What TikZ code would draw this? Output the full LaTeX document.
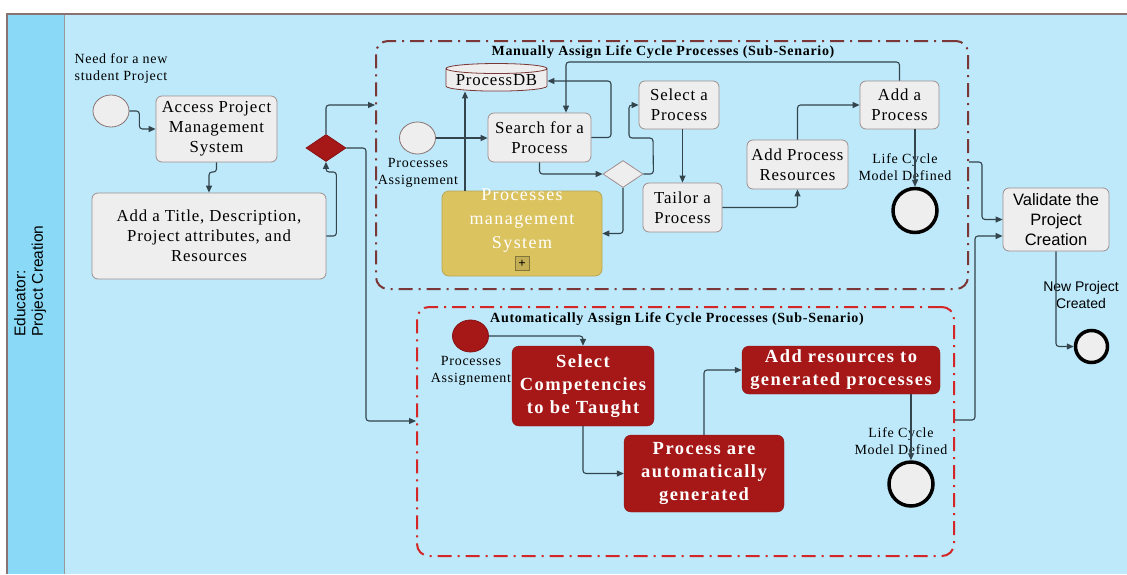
\documentclass[tikz,border=0pt]{standalone}
\usepackage{fontspec}
\setmainfont{Liberation Serif}
\newfontfamily\wideserif[LetterSpace=5]{Liberation Serif}
\newfontfamily\widerserif[LetterSpace=8]{Liberation Serif}
\newfontfamily\arialfont{Liberation Sans}
\usetikzlibrary{shapes.geometric,arrows.meta}

\definecolor{laneblue}{HTML}{BDE9FA}
\definecolor{bandblue}{HTML}{8AD9F6}
\definecolor{poolline}{HTML}{8A7272}
\definecolor{taskfill}{HTML}{EFEEEE}
\definecolor{taskline}{HTML}{A08E8E}
\definecolor{bpmnred}{HTML}{A61717}
\definecolor{pmsgold}{HTML}{DBC360}
\definecolor{subbrown}{HTML}{7B3636}
\definecolor{subred}{HTML}{D42626}
\definecolor{flowline}{HTML}{34444C}

\begin{document}
\begin{tikzpicture}[x=1pt, y=-1pt,
  task/.style={draw=taskline, fill=taskfill, rounded corners=6pt, line width=0.8pt, align=center, inner sep=2pt,
    font=\wideserif\fontsize{16.8}{20}\selectfont},
  redtask/.style={draw=bpmnred!85!black, fill=bpmnred, rounded corners=7pt, text=white, align=center, inner sep=2pt,
    font=\widerserif\bfseries\fontsize{18.5}{23}\selectfont},
  startev/.style={ellipse, draw=poolline, fill=taskfill, line width=0.8pt, inner sep=0pt, minimum width=36pt, minimum height=32pt},
  endev/.style={circle, draw=black, fill=taskfill, line width=3.5pt, inner sep=0pt},
  evlabel/.style={align=center, inner sep=0pt, font=\wideserif\fontsize{14}{17}\selectfont},
  sanslabel/.style={align=center, inner sep=0pt, font=\arialfont\fontsize{14}{17}\selectfont},
  subtitle/.style={inner sep=0pt, font=\wideserif\bfseries\fontsize{14}{16}\selectfont},
  subproc/.style={rounded corners=12pt, line width=2pt, dash pattern=on 14pt off 6pt on 2pt off 6pt, inner sep=0pt},
  gateway/.style={diamond, inner sep=0pt, line width=0.8pt, minimum width=40pt, minimum height=27pt},
  flow/.style={draw=flowline, line width=1.1pt, rounded corners=3pt, -{Triangle[length=7pt,width=6pt]}}]

\useasboundingbox (0,0) rectangle (1127,574);

% pool and lane
\fill[laneblue] (8,14) rectangle (1127,574);
\fill[bandblue] (8,14) rectangle (64,574);
\draw[gray!80, line width=1pt] (64,14) -- (64,574);
\draw[poolline, line width=2pt] (1127,14) -- (7,14) -- (7,574);
\node[rotate=90, align=left, inner sep=0pt, font=\arialfont\fontsize{15.5}{17.5}\selectfont] (lane) at (30,281) {Educator:\\Project Creation};

% sub-scenario frames
\node[subproc, draw=subbrown, minimum width=592pt, minimum height=248pt] (msub) at (672,165) {};
\node[subproc, draw=subred, minimum width=537pt, minimum height=249pt] (asub) at (685.5,431.5) {};
\node[subtitle] (mtitle) at (663,52) {Manually Assign Life Cycle Processes (Sub-Senario)};
\node[subtitle] (atitle) at (677,319) {Automatically Assign Life Cycle Processes (Sub-Senario)};

% main lane
\node[startev] (need) at (111,111) {};
\node[evlabel] (needlbl) at (121,69) {Need for a new\\student Project};
\node[task, minimum width=121pt, minimum height=66pt] (access) at (216.5,129) {Access Project\\Management\\System};
\node[task, minimum width=234pt, minimum height=86pt] (addtitle) at (209,236) {Add a Title, Description,\\Project attributes, and\\Resources};
\node[gateway, fill=bpmnred, draw=bpmnred!80!black] (gw1) at (326,148) {};

% manual assignment
\node[cylinder, shape border rotate=90, aspect=0.12, draw=subbrown, fill=taskfill, line width=0.8pt,
  minimum width=101pt, minimum height=25pt, inner sep=1pt, font=\wideserif\fontsize{16.8}{20}\selectfont] (db) at (496.5,80.5) {ProcessDB};
\node[startev] (mstart) at (417.5,138) {};
\node[evlabel] (mstartlbl) at (418,173) {Processes\\Assignement};
\node[task, minimum width=103pt, minimum height=49pt] (search) at (539.5,137.5) {Search for a\\Process};
\node[draw=pmsgold!85!black, fill=pmsgold, rounded corners=7pt, line width=0.8pt, minimum width=160pt, minimum height=85pt] (pms) at (522,233.5) {};
\node[align=center, text=white, inner sep=0pt, font=\widerserif\fontsize{18}{24}\selectfont] (pmslbl) at (522,221) {Processes\\management\\System};
\node[draw=pmsgold!60!black, fill=pmsgold!90!black, line width=0.6pt, minimum size=14pt, inner sep=0pt,
  font=\bfseries\fontsize{13}{13}\selectfont] (pmsplus) at (522,263.5) {+};
\node[gateway, fill=taskfill, draw=taskline] (gw2) at (623,174) {};
\node[task, minimum width=80pt, minimum height=48pt] (select) at (679,105) {Select a\\Process};
\node[task, minimum width=79pt, minimum height=49pt] (tailor) at (682.5,207.5) {Tailor a\\Process};
\node[task, minimum width=101pt, minimum height=49pt] (apr) at (797.5,164.5) {Add Process\\Resources};
\node[task, minimum width=79pt, minimum height=48pt] (addp) at (899.5,105) {Add a\\Process};
\node[endev, minimum size=44pt] (mend) at (915,210.5) {};
\node[evlabel] (mendlbl) at (905,167) {Life Cycle\\Model Defined};

% automatic assignment
\node[startev, fill=bpmnred, draw=bpmnred!80!black] (astart) at (470.5,336) {};
\node[evlabel] (astartlbl) at (471,371) {Processes\\Assignement};
\node[redtask, minimum width=142pt, minimum height=80pt] (selcomp) at (583,386) {Select\\Competencies\\to be Taught};
\node[redtask, minimum width=160pt, minimum height=77pt] (autogen) at (704,473.5) {Process are\\automatically\\generated};
\node[redtask, minimum width=198pt, minimum height=48pt] (addres) at (841,370) {Add resources to\\generated processes};
\node[endev, minimum size=44pt] (aend) at (911,484) {};
\node[evlabel] (aendlbl) at (901,441) {Life Cycle\\Model Defined};

% validation
\node[task, minimum width=106pt, minimum height=63pt, font=\arialfont\fontsize{16.5}{20}\selectfont] (validate) at (1056,219.5) {Validate the\\Project\\Creation};
\node[endev, minimum size=32pt] (pend) at (1091.5,346.5) {};
\node[sanslabel] (pendlbl) at (1081,294.5) {New Project\\Created};

% flows
\draw[flow] (need.east) -- ++(10,0) |- (access.west);
\draw[flow] (access.south) |- (209,172) -- (addtitle.north);
\draw[flow] (addtitle.east) -- ++(10,0) |- (326,172) -- (gw1.south);
\draw[flow] (gw1.north) |- (msub.west |- 0,105);
\draw[flow] (gw1.east) -| (366,421) -- (asub.west |- 0,421);

\draw[flow] (mstart.east) -- (search.west |- mstart.east);
\draw[flow] (pms.north -| 465,0) -- (db.south -| 465,0);
\draw[flow] (search.east) -| (611,81) -- (db.east |- 0,81);
\draw[flow] (addp.north) |- (566,62) -- (search.north -| 566,0);
\draw[flow] (search.south) |- (gw2.west);
\draw[flow] (gw2.east) -- ++(10,0) -- (653,138) -- (629,138) |- (select.west);
\draw[flow] (gw2.south) |- (pms.east);
\draw[flow] (select.south -| tailor.north) -- (tailor.north);
\draw[flow] (tailor.east) -| (apr.south);
\draw[flow] (apr.north) |- (addp.west);
\draw[flow] (addp.south -| mend.north) -- (mend.north);

\draw[flow] (astart.east) -| (selcomp.north);
\draw[flow] (selcomp.south) |- (autogen.west);
\draw[flow] (autogen.north) |- (addres.west);
\draw[flow] (addres.south -| aend.north) -- (aend.north);

\draw[flow] (msub.east |- 0,162) -| (982,219.5) -- (validate.west);
\draw[flow] (asub.east |- 0,420) -| (975,236) -- (validate.west |- 0,236);
\draw[flow] (validate.south) |- (pend.west);

\end{tikzpicture}
\end{document}
